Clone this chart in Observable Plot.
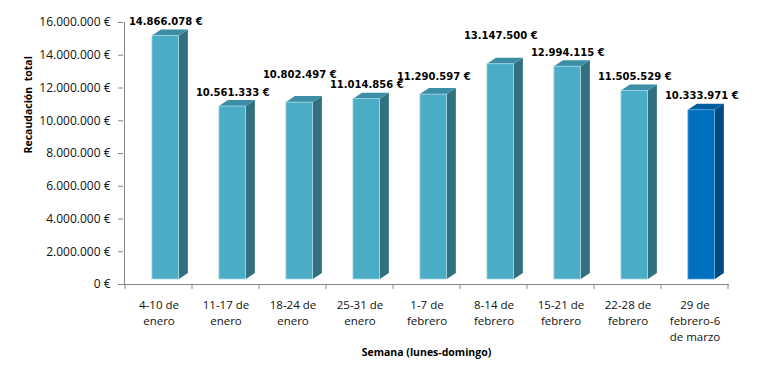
<!DOCTYPE html>
<html>
<head>
<meta charset="utf-8">
<script src="https://cdn.jsdelivr.net/npm/d3@7"></script>
<script src="https://cdn.jsdelivr.net/npm/@observablehq/plot@0.6"></script>
<style>
  html, body { margin: 0; padding: 0; background: #fff; }
  svg { display: block; }
</style>
</head>
<body>
<div id="chart"></div>
<script>
// ---- data ----
const weeks = [
  "4-10 de\nenero",
  "11-17 de\nenero",
  "18-24 de\nenero",
  "25-31 de\nenero",
  "1-7 de\nfebrero",
  "8-14 de\nfebrero",
  "15-21 de\nfebrero",
  "22-28 de\nfebrero",
  "29 de\nfebrero-6\nde marzo"
];
const revenue = [14866078, 10561333, 10802497, 11014856, 11290597, 13147500, 12994115, 11505529, 10333971];
const yTicks = [0, 2000000, 4000000, 6000000, 8000000, 10000000, 12000000, 14000000, 16000000];
const yTitle = "Recaudación  total";
const xTitle = "Semana (lunes-domingo)";
// label raise above bar top (px), as placed in the original
const labelLift = [19, 19, 33, 19, 23, 33, 19, 19, 19];

// ---- styling ----
const W = 761, H = 372;
const mL = 123, mR = 32, mT = 22, mB = 88;
const step = (W - mL - mR) / weeks.length;
const depth = 9, rise = 6, lift = 5;
const frontL = 0.4 * step, frontW = 0.4 * step;
const pal = {
  normal: {front: "#4BACC6", side: "#31707F", top: "#3C8EA6", edge: "#A5D5E3"},
  current: {front: "#0070C0", side: "#004A80", top: "#005C9E", edge: "#5AA6DC"}
};
const colorOf = i => i === revenue.length - 1 ? pal.current : pal.normal;

const loc = d3.formatLocale({decimal: ",", thousands: ".", grouping: [3], currency: ["", ""]});
const fmt = loc.format(",d");
const euro = v => fmt(v) + "\u00a0€";

const idx = d3.range(weeks.length);

const chart = Plot.plot({
  width: W, height: H,
  marginLeft: mL, marginRight: mR, marginTop: mT, marginBottom: mB,
  style: {fontFamily: "'Open Sans', sans-serif", fontSize: "11.5px", color: "#000", background: "#fff"},
  x: {domain: weeks, padding: 0, axis: null},
  y: {domain: [0, 16000000], axis: null},
  marks: [
    Plot.ruleY([0], {stroke: "#868686", strokeWidth: 1}),
    Plot.axisY({ticks: yTicks, tickSize: 5, tickPadding: 8, tickFormat: euro, stroke: "#868686", fill: "#111", label: null, fontSize: 12}),
    Plot.barY(idx, {
      x: i => weeks[i], y: i => revenue[i],
      fill: i => colorOf(i).front, stroke: i => colorOf(i).edge, strokeWidth: 0.8,
      insetLeft: frontL, insetRight: step - frontL - frontW, dy: -lift
    }),
    Plot.text(idx, {
      x: i => weeks[i], text: i => weeks[i], frameAnchor: "bottom",
      lineAnchor: "top", dy: 13, lineHeight: 1.4, fontSize: 11.5, fill: "#111"
    }),
    ...idx.map(i => Plot.text([i], {
      x: d => weeks[d], y: d => revenue[d], text: d => euro(revenue[d]),
      dx: frontL + frontW / 2 - step / 2, dy: -labelLift[i],
      fontFamily: "'DejaVu Sans', sans-serif", fontWeight: "bold", fontSize: 10, fill: "#000"
    })),
    Plot.text([yTitle], {frameAnchor: "left", rotate: -90, dx: -95, fontWeight: "bold", fontSize: 10.5, fill: "#000"}),
    Plot.text([xTitle], {frameAnchor: "bottom", dy: 71, fontWeight: "bold", fontSize: 10.5, fill: "#000"})
  ]
});

document.getElementById("chart").appendChild(chart);

// ---- 3D faces, y axis line and band ticks, positioned through Plot's scales ----
const svgEl = chart.tagName.toLowerCase() === "svg" ? chart : chart.querySelector("svg");
const xs = chart.scale("x"), ys = chart.scale("y");
const root = d3.select(svgEl);
const g = root.insert("g", ":first-child");
const y0 = ys.apply(0);
idx.forEach(i => {
  const b = xs.apply(weeks[i]);
  const xl = b + frontL, xr = b + frontL + frontW;
  const yt = ys.apply(revenue[i]) - lift, yb = y0 - lift;
  const c = colorOf(i);
  g.append("path")
    .attr("d", `M${xr},${yt}L${xr + depth},${yt - rise}L${xr + depth},${yb - rise}L${xr},${yb}Z`)
    .attr("fill", c.side);
  g.append("path")
    .attr("d", `M${xl},${yt}L${xl + depth},${yt - rise}L${xr + depth},${yt - rise}L${xr},${yt}Z`)
    .attr("fill", c.top);
});
const axes = root.append("g").attr("stroke", "#868686").attr("stroke-width", 1);
const xLeft = xs.apply(weeks[0]);
axes.append("line")
  .attr("x1", xLeft - 0.5).attr("x2", xLeft - 0.5)
  .attr("y1", ys.apply(16000000)).attr("y2", y0);
[...weeks.map(w => xs.apply(w)), xs.apply(weeks[weeks.length - 1]) + xs.bandwidth].forEach(x => {
  axes.append("line").attr("x1", x).attr("x2", x).attr("y1", y0).attr("y2", y0 + 5);
});
</script>
</body>
</html>
